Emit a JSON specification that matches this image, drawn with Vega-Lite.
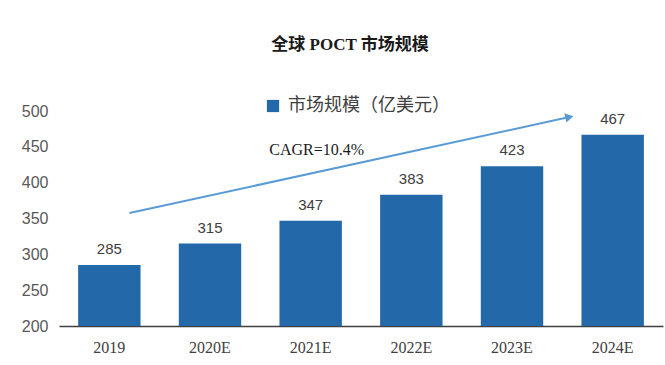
{
  "$schema": "https://vega.github.io/schema/vega-lite/v6.json",
  "width": 604,
  "height": 215,
  "autosize": {"type": "none"},
  "padding": {"left": 59, "top": 111, "right": 2, "bottom": 39},
  "background": "white",
  "title": {
    "text": "全球 POCT 市场规模",
    "font": "Liberation Serif, Noto Sans CJK SC",
    "fontSize": 17,
    "fontWeight": "bold",
    "color": "#1a1a1a",
    "anchor": "middle",
    "frame": "group",
    "offset": 43,
    "dx": -11
  },
  "config": {"view": {"stroke": null}},
  "datasets": {
    "bars": [
      {"year": "2019", "value": 285, "series": "市场规模（亿美元）"},
      {"year": "2020E", "value": 315, "series": "市场规模（亿美元）"},
      {"year": "2021E", "value": 347, "series": "市场规模（亿美元）"},
      {"year": "2022E", "value": 383, "series": "市场规模（亿美元）"},
      {"year": "2023E", "value": 423, "series": "市场规模（亿美元）"},
      {"year": "2024E", "value": 467, "series": "市场规模（亿美元）"}
    ],
    "arrow": [{"x": 0.7, "y": 357.6, "x2": 5.07, "y2": 491.5, "label": "CAGR=10.4%", "lx": 2.56, "ly": 445}]
  },
  "layer": [
    {
      "data": {"name": "bars"},
      "encoding": {
        "x": {
          "field": "year", "type": "nominal", "sort": null,
          "scale": {"paddingInner": 0.38, "paddingOuter": 0.19},
          "axis": {
            "title": null, "labelAngle": 0, "ticks": false, "domainColor": "#404040", "domainWidth": 1.5,
            "labelFont": "Liberation Serif", "labelFontSize": 16, "labelColor": "#404040", "labelPadding": 13
          }
        },
        "y": {
          "field": "value", "type": "quantitative",
          "scale": {"domain": [200, 500], "nice": false},
          "axis": {
            "title": null, "values": [200, 250, 300, 350, 400, 450, 500], "grid": false, "domain": false, "ticks": false,
            "labelFont": "Liberation Sans", "labelFontSize": 16, "labelColor": "#595959", "labelPadding": 11
          }
        }
      },
      "layer": [
        {
          "mark": {"type": "bar", "color": "#2368A8", "clip": true},
          "encoding": {
            "color": {
              "field": "series", "type": "nominal",
              "scale": {"range": ["#2368A8"]},
              "legend": {
                "title": null, "orient": "none", "legendX": 205, "legendY": -14,
                "symbolType": "square", "symbolSize": 150, "symbolStrokeWidth": 0, "labelLimit": 0,
                "labelFont": "Noto Sans CJK SC", "labelFontSize": 18, "labelColor": "#404040", "labelOffset": 6
              }
            }
          }
        },
        {
          "mark": {"type": "text", "baseline": "bottom", "dy": -8, "font": "Liberation Sans", "fontSize": 15, "color": "#404040"},
          "encoding": {
            "text": {"field": "value", "type": "quantitative"}
          }
        }
      ]
    },
    {
      "data": {"name": "arrow"},
      "encoding": {
        "y": {"field": "y", "type": "quantitative", "axis": null}
      },
      "layer": [
        {
          "mark": {"type": "rule", "color": "#5B9BD5", "strokeWidth": 2},
          "encoding": {
            "x": {"field": "x", "type": "quantitative", "scale": {"domain": [0, 6], "nice": false}, "axis": null},
            "x2": {"field": "x2"},
            "y2": {"field": "y2"}
          }
        },
        {
          "mark": {"type": "point", "shape": "triangle-right", "filled": true, "color": "#5B9BD5", "opacity": 1, "size": 90, "angle": -12.3},
          "encoding": {
            "x": {"field": "x2", "type": "quantitative", "scale": {"domain": [0, 6], "nice": false}, "axis": null},
            "y": {"field": "y2", "type": "quantitative", "axis": null}
          }
        },
        {
          "mark": {"type": "text", "font": "Liberation Serif", "fontSize": 16, "color": "#1a1a1a"},
          "encoding": {
            "x": {"field": "lx", "type": "quantitative", "scale": {"domain": [0, 6], "nice": false}, "axis": null},
            "y": {"field": "ly", "type": "quantitative", "axis": null},
            "text": {"field": "label"}
          }
        }
      ]
    }
  ],
  "resolve": {"scale": {"x": "independent"}, "axis": {"y": "independent"}}
}
